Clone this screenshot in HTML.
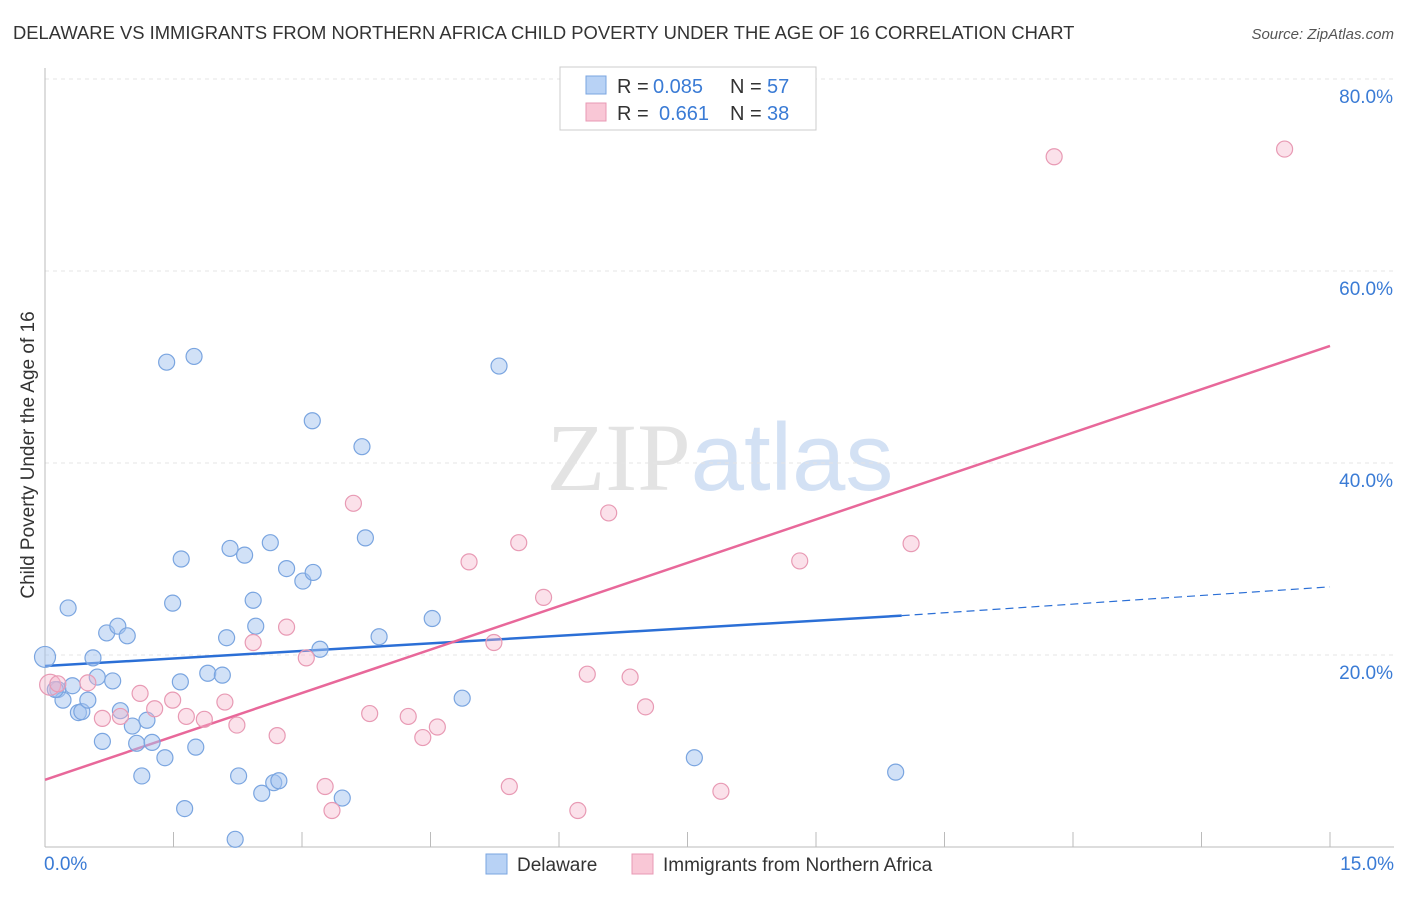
<!DOCTYPE html>
<html><head><meta charset="utf-8"><style>
body{margin:0;background:#fff;font-family:"Liberation Sans",sans-serif}
</style></head><body>
<svg id="chart" width="1406" height="892" xmlns="http://www.w3.org/2000/svg" font-family="Liberation Sans, sans-serif">
<text x="13" y="39" font-size="18.4" fill="#333">DELAWARE VS IMMIGRANTS FROM NORTHERN AFRICA CHILD POVERTY UNDER THE AGE OF 16 CORRELATION CHART</text>
<text x="1394" y="39" font-size="15" fill="#555" text-anchor="end" font-style="italic">Source: ZipAtlas.com</text>
<text x="720" y="490" font-size="96" text-anchor="middle" fill="#ddd" opacity="0.8"><tspan font-family="Liberation Serif, serif">ZIP</tspan><tspan fill="#c9daf2">atlas</tspan></text>
<text transform="translate(34,455) rotate(-90)" font-size="19" fill="#333" text-anchor="middle">Child Poverty Under the Age of 16</text>
<g id="grid"></g><g id="axes"></g><g id="lines"></g><g id="pts"></g>
<g>
<rect x="560" y="67" width="256" height="63" fill="#fff" stroke="#ccc"/>
<rect x="586" y="76" width="20" height="18" fill="#b8d2f5" stroke="#7aa5e0"/>
<rect x="586" y="103" width="20" height="18" fill="#f9c7d6" stroke="#e89ab4"/>
<text x="617" y="93" font-size="20" fill="#333">R =</text>
<text x="653" y="93" font-size="20" fill="#3a7bd5">0.085</text>
<text x="730" y="93" font-size="20" fill="#333">N =</text>
<text x="767" y="93" font-size="20" fill="#3a7bd5">57</text>
<text x="617" y="120" font-size="20" fill="#333">R =</text>
<text x="659" y="120" font-size="20" fill="#3a7bd5">0.661</text>
<text x="730" y="120" font-size="20" fill="#333">N =</text>
<text x="767" y="120" font-size="20" fill="#3a7bd5">38</text>
</g>
<g>
<rect x="486" y="854" width="21" height="20" fill="#b8d2f5" stroke="#7aa5e0"/>
<text x="517" y="871" font-size="19" fill="#333">Delaware</text>
<rect x="632" y="854" width="21" height="20" fill="#f9c7d6" stroke="#e89ab4"/>
<text x="663" y="871" font-size="19" fill="#333">Immigrants from Northern Africa</text>
</g>
</svg>
<script>
const blueX=[0,0.15,0.27,0.21,0.32,0.39,0.43,0.56,0.61,0.67,0.72,0.79,0.85,0.88,0.96,1.02,1.07,1.13,1.19,1.25,1.40,1.42,1.49,1.58,1.59,1.63,1.74,1.76,1.90,2.07,2.12,2.16,2.22,2.26,2.33,2.43,2.46,2.53,2.63,2.67,2.73,2.82,3.01,3.12,3.13,3.21,3.47,3.70,3.74,3.90,4.52,4.87,5.30,7.58,9.93,0.12,0.50];
const blueY=[19.8,16.4,24.9,15.3,16.8,14.0,14.1,19.7,17.7,11.0,22.3,17.3,23.0,14.2,22.0,12.6,10.8,7.4,13.2,10.9,9.3,50.5,25.4,17.2,30.0,4.0,51.1,10.4,18.1,17.9,21.8,31.1,0.8,7.4,30.4,25.7,23.0,5.6,31.7,6.7,6.9,29.0,27.7,44.4,28.6,20.6,5.1,41.7,32.2,21.9,23.8,15.5,50.1,9.3,7.8,16.4,15.3];
const pinkX=[0.06,0.15,0.50,0.67,0.88,1.11,1.28,1.49,1.65,1.86,2.10,2.24,2.43,2.71,2.82,3.05,3.27,3.35,3.60,3.79,4.24,4.41,4.58,4.95,5.24,5.42,5.53,5.82,6.22,6.33,6.58,6.83,7.01,7.89,8.81,10.11,11.78,14.47];
const pinkY=[16.9,17.0,17.1,13.4,13.6,16.0,14.4,15.3,13.6,13.3,15.1,12.7,21.3,11.6,22.9,19.7,6.3,3.8,35.8,13.9,13.6,11.4,12.5,29.7,21.3,6.3,31.7,26.0,3.8,18.0,34.8,17.7,14.6,5.8,29.8,31.6,71.9,72.7];
const yTicks=[20,40,60,80];
const yTickLabels=["20.0%","40.0%","60.0%","80.0%"];
const xTickLabels=["0.0%","15.0%"];
const blueLine=[18.85,24.1,27.1]; // at x=0, 10, 15
const pinkLine=[7.0,52.2];
const NS="http://www.w3.org/2000/svg";
const X=v=>45+v/15*1285, Y=v=>847-v/20*192;
function mk(tag,attrs,parent){const e=document.createElementNS(NS,tag);for(const k in attrs)e.setAttribute(k,attrs[k]);document.getElementById(parent).appendChild(e);return e;}
yTicks.forEach((t,i)=>{
 const g=mk('line',{x1:45,x2:1394,y1:Y(t),y2:Y(t),stroke:'#e4e4e4','stroke-dasharray':'4,4'},'grid');
 
 
 const l=mk('text',{x:1393,y:Y(t)+24,'font-size':19,fill:'#3a7bd5','text-anchor':'end'},'axes');
 l.textContent=yTickLabels[i];
 
 
});
const ax=mk('line',{x1:45,x2:1394,y1:847,y2:847,stroke:'#bbb'},'axes');


const ay=mk('line',{x1:45,x2:45,y1:68,y2:847,stroke:'#bbb'},'axes');


for(let i=1;i<=10;i++){const t=mk('line',{x1:X(i*1.5),x2:X(i*1.5),y1:832,y2:847,stroke:'#bbb'},'axes');
 
 }
[[0,44,'start'],[15,1394,'end']].forEach((p,i)=>{const l=mk('text',{x:p[1],y:870,'font-size':19,fill:'#3a7bd5','text-anchor':p[2]},'axes');l.textContent=xTickLabels[i];
 
 });
function pts(xs,ys,fill,stroke,name){xs.forEach((x,i)=>{const r=(i===0)?10.5:8;const c=mk('circle',{cx:X(x),cy:Y(ys[i]),r:r,fill:fill,stroke:stroke,'stroke-width':1.2},'pts');
 
 });}
pts(blueX,blueY,'rgba(164,196,240,0.5)','#7aa5e0','delaware-point');
pts(pinkX,pinkY,'rgba(246,180,202,0.4)','#e89ab4','immigrant-point');
const b1=mk('line',{x1:X(0),y1:Y(blueLine[0]),x2:X(10),y2:Y(blueLine[1]),stroke:'#2b6fd6','stroke-width':2.5},'lines');


const b2=mk('line',{x1:X(10),y1:Y(blueLine[1]),x2:X(15),y2:Y(blueLine[2]),stroke:'#2b6fd6','stroke-width':1.2,'stroke-dasharray':'8,5'},'lines');


const p1=mk('line',{x1:X(0),y1:Y(pinkLine[0]),x2:X(15),y2:Y(pinkLine[1]),stroke:'#e8689a','stroke-width':2.5},'lines');


</script>
</body></html>
